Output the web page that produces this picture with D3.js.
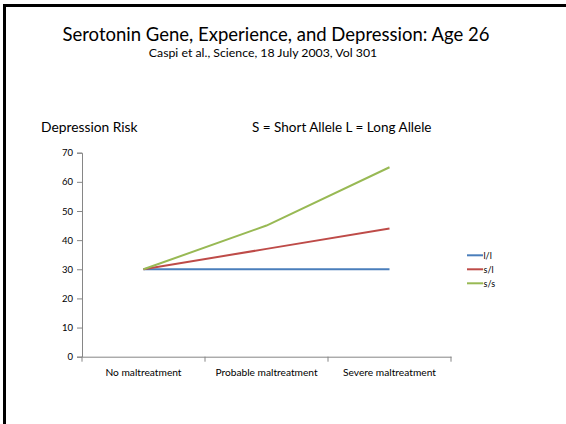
<!DOCTYPE html>
<html>
<head>
<meta charset="utf-8">
<script src="https://cdn.jsdelivr.net/npm/d3@7"></script>
<style>
  body { margin: 0; background: #fff; }
  svg { display: block; font-family: Lato, "Open Sans", sans-serif; }
</style>
</head>
<body>
<svg id="chart" width="566" height="424"></svg>
<script>
// data
var categories = ["No maltreatment", "Probable maltreatment", "Severe maltreatment"];
var seriesNames = ["l/l", "s/l", "s/s"];
var llValues = [30, 30, 30];
var slValues = [30, 37, 44];
var ssValues = [30, 45, 65];
var yTicks = [0, 10, 20, 30, 40, 50, 60, 70];
var colors = ["#4A7EBB", "#BE4B48", "#98B954"];

var series = [llValues, slValues, ssValues].map(function(v, i) {
  return { name: seriesNames[i], values: v, color: colors[i] };
});

var svg = d3.select("#chart");

// slide frame (bottom edge is off the picture)
svg.append("rect")
  .attr("x", 4.5).attr("y", 5.5)
  .attr("width", 566).attr("height", 430)
  .attr("fill", "none").attr("stroke", "#000").attr("stroke-width", 3);

svg.append("text").attr("x", 276).attr("y", 41)
  .attr("text-anchor", "middle").style("font-size", "18.5px").attr("fill", "#000")
  .text("Serotonin Gene, Experience, and Depression: Age 26");
svg.append("text").attr("x", 263).attr("y", 57)
  .attr("text-anchor", "middle").style("font-size", "12.3px").attr("fill", "#000")
  .text("Caspi et al., Science, 18 July 2003, Vol 301");

svg.append("text").attr("x", 41).attr("y", 132)
  .style("font-size", "13.8px").attr("fill", "#000").text("Depression Risk");
svg.append("text").attr("x", 252).attr("y", 132)
  .style("font-size", "13.5px").attr("fill", "#000").text("S = Short Allele L = Long Allele");

var margins = { left: 82, right: 451, top: 152.7, bottom: 356.7 };

var xScale = d3.scaleBand().domain(categories).range([margins.left, margins.right]);
var yScale = d3.scaleLinear().domain([0, 70]).range([margins.bottom, margins.top]);

var axisColor = "#868686";

var yAxis = svg.append("g")
  .attr("transform", "translate(" + margins.left + ",0)")
  .call(d3.axisLeft(yScale).tickValues(yTicks).tickSize(5).tickPadding(4));
var xAxis = svg.append("g")
  .attr("transform", "translate(0," + margins.bottom + ")")
  .call(d3.axisBottom(xScale).tickSize(0).tickPadding(12));

// excel puts the x ticks on the band edges
var edges = categories.map(function(c) { return xScale(c); }).concat([margins.right]);
xAxis.selectAll(".edge").data(edges).enter().append("line")
  .attr("class", "edge")
  .attr("x1", function(d) { return d; }).attr("x2", function(d) { return d; })
  .attr("y1", 0).attr("y2", 5);

[xAxis, yAxis].forEach(function(a) {
  a.selectAll("path.domain").attr("stroke", axisColor);
  a.selectAll("line").attr("stroke", axisColor);
  a.selectAll("text").attr("fill", "#000").style("font-family", "Lato, sans-serif");
});
yAxis.selectAll("text").style("font-size", "9.5px");
xAxis.selectAll("text").style("font-size", "10.2px");

var line = d3.line()
  .x(function(d, i) { return xScale(categories[i]) + xScale.bandwidth() / 2; })
  .y(function(d) { return yScale(d); });

svg.selectAll(".series").data(series).enter().append("path")
  .attr("class", "series")
  .attr("d", function(d) { return line(d.values); })
  .attr("fill", "none")
  .attr("stroke", function(d) { return d.color; })
  .attr("stroke-width", 2);

var legend = svg.selectAll(".legend").data(series).enter().append("g")
  .attr("class", "legend")
  .attr("transform", function(d, i) { return "translate(467," + (255.3 + i * 14) + ")"; });
legend.append("line").attr("x1", 0).attr("x2", 16).attr("y1", 0).attr("y2", 0)
  .attr("stroke", function(d) { return d.color; }).attr("stroke-width", 2);
legend.append("text").attr("x", 16.5).attr("y", 3.2)
  .style("font-size", "9px").attr("fill", "#000")
  .text(function(d) { return d.name; });
</script>
</body>
</html>
